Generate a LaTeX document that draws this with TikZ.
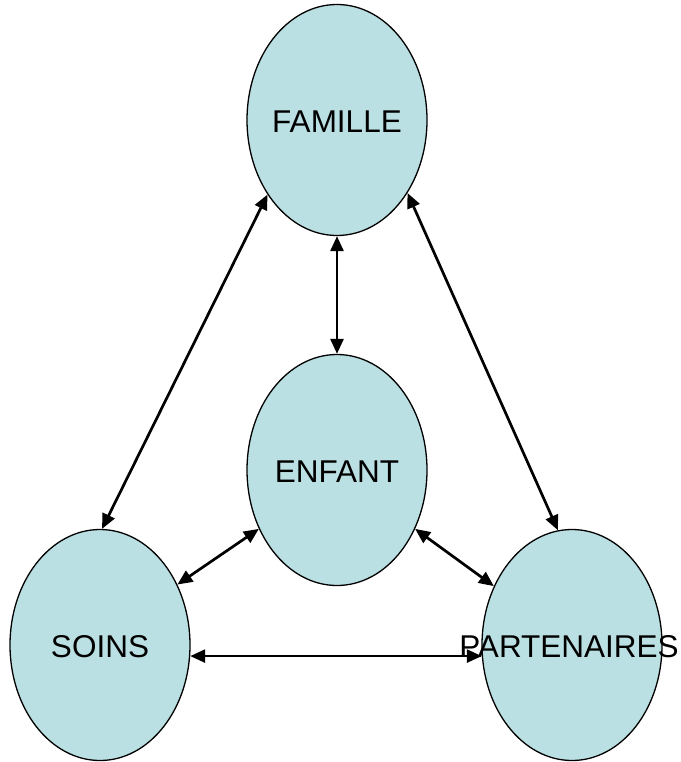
\documentclass[tikz,border=0pt]{standalone}
\usepackage{fontspec}
\setmainfont{Liberation Sans}
\usepackage{tikz}
\usetikzlibrary{shapes.geometric}
\usetikzlibrary{arrows.meta}
\definecolor{bleuclair}{RGB}{187,224,227}

\begin{document}
\begin{tikzpicture}
          [x=1pt, y=-1pt,
           bulle/.style={draw, ellipse, fill=bleuclair, line width=1.3pt,
                         minimum width=180pt, minimum height=231pt, inner sep=0pt},
           every label/.style={font=\fontsize{31.5}{38}\selectfont, inner sep=0pt, yshift=-2pt},
           lien/.style={line width=2.7pt,
                        {Triangle[length=15pt,width=13pt]}-{Triangle[length=15pt,width=13pt]}}]
          \useasboundingbox (0,0) rectangle (680,762);

          \node (fam) [bulle, label={center:FAMILLE}] at (337,120) {};
          \node (enf) [bulle, label={center:ENFANT}] at (337,470) {};
          \node (soi) [bulle, label={center:SOINS}] at (100,645) {};
          \node (par) [bulle, label={[xshift=-3pt]center:PARTENAIRES}] at (572,645) {};

          \draw[lien] (fam.south) -- (enf.north);
          \draw[lien] (fam.227) -- (soi.89);
          \draw[lien] (fam.314) -- (par.97);
          \draw[lien] (enf.217) -- (soi.38);
          \draw[lien] (enf.323) -- (par.143);
          \draw[lien] (soi.353) -- (par.187);

        \end{tikzpicture}
\end{document}
